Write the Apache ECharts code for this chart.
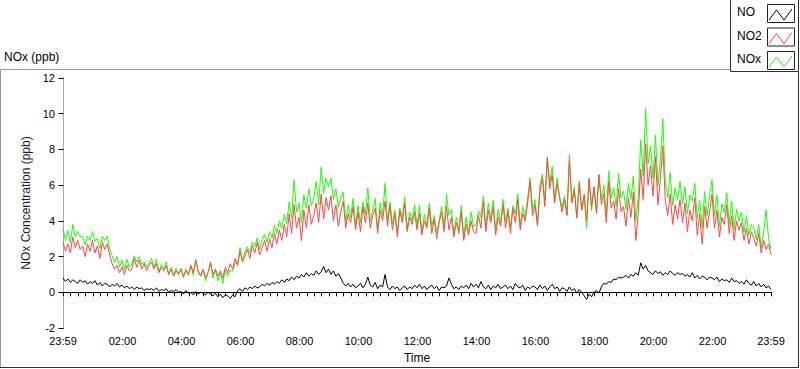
<!DOCTYPE html>
<html><head><meta charset="utf-8">
<script src="https://cdn.jsdelivr.net/npm/echarts@6/dist/echarts.min.js"></script>
<style>html,body{margin:0;padding:0;background:#fff}#c{width:800px;height:369px}</style>
</head><body><div id="c"></div>
<script>
// Sampling: every 5 minutes, starting at 23:59 of the previous day (minute -1)
const startMinute = -1;
const stepMinutes = 5;

const no = [
0.8,0.6,0.75,0.55,0.7,0.6,0.5,0.7,0.55,0.65,0.45,0.6,
0.5,0.65,0.4,0.55,0.35,0.5,0.45,0.3,0.45,0.35,0.5,0.3,
0.4,0.25,0.35,0.2,0.3,0.15,0.3,0.2,0.25,0.1,0.2,0.15,
0.2,0.1,0.25,0.05,0.15,0.1,0.2,0.0,0.1,0.05,0.15,0.0,
0.05,-0.1,0.1,-0.05,0.0,-0.15,0.05,-0.1,0.0,-0.05,-0.15,0.0,
-0.1,-0.2,-0.05,-0.25,-0.1,-0.3,-0.15,-0.2,-0.35,-0.15,-0.25,0.1,
0.2,0.05,0.25,0.15,0.3,0.2,0.35,0.25,0.3,0.45,0.35,0.5,
0.4,0.55,0.45,0.6,0.5,0.7,0.55,0.75,0.65,0.85,0.7,0.9,
0.8,1.0,0.85,1.1,0.9,1.05,0.95,1.2,1.0,1.15,1.45,1.1,
1.3,1.0,1.2,0.9,1.05,0.8,0.5,0.35,0.5,0.3,0.45,0.25,
0.35,0.5,0.25,0.45,0.85,0.4,0.3,0.55,0.2,0.4,0.3,1.0,
0.3,0.15,0.35,0.2,0.3,0.1,0.25,0.35,0.15,0.3,0.2,0.4,
0.25,0.45,0.2,0.35,0.15,0.3,0.4,0.2,0.35,0.1,0.3,0.25,
0.35,0.8,0.45,0.2,0.3,0.15,0.35,0.25,0.4,0.2,0.5,0.3,
0.45,0.25,0.6,0.3,0.2,0.4,0.15,0.35,0.25,0.45,0.2,0.3,
0.4,0.2,0.35,0.15,0.5,0.3,0.25,0.4,0.1,0.3,0.2,0.35,
0.3,0.15,0.4,0.2,0.35,0.1,0.3,0.45,0.2,0.3,0.05,0.25,
0.2,0.05,0.3,0.1,0.2,-0.05,0.15,0.0,-0.2,-0.4,-0.1,-0.25,
0.0,0.1,-0.05,0.3,0.5,0.45,0.6,0.55,0.75,0.7,0.85,0.8,
0.85,0.95,0.8,1.0,0.9,1.1,0.95,1.65,1.3,1.5,1.2,1.1,
1.0,1.2,1.05,1.15,0.95,1.1,1.0,1.2,1.05,0.95,1.1,1.0,
1.05,0.9,1.0,0.85,1.1,0.8,0.95,0.75,0.9,0.85,0.7,0.85,
0.8,0.7,0.85,0.6,0.75,0.65,0.7,0.55,0.8,0.6,0.65,0.5,
0.6,0.45,0.7,0.5,0.4,0.6,0.35,0.5,0.3,0.45,0.25,0.35,
0.15];

const no2 = [
2.8,2.3,2.7,2.2,3.1,2.5,2.9,2.4,2.6,2.0,2.7,2.3,
2.9,2.2,2.6,1.9,2.8,2.4,2.7,2.1,1.6,1.3,1.5,1.1,
1.4,1.0,1.5,1.2,1.3,1.9,1.4,1.8,1.3,1.6,1.2,1.5,
1.7,1.3,1.6,1.1,1.4,1.2,1.5,1.0,1.3,0.9,1.2,1.0,
1.3,0.9,1.2,1.0,1.5,1.1,1.8,1.2,0.9,1.3,0.8,1.1,
1.7,1.0,1.3,0.9,1.2,0.8,1.4,1.1,1.6,1.3,1.9,1.5,
2.3,1.7,2.0,2.4,1.9,2.6,2.2,2.8,2.1,2.5,2.9,2.3,
3.0,2.5,3.3,2.7,3.5,2.9,3.8,3.1,4.4,3.3,4.9,3.6,
4.2,2.9,4.6,3.6,4.9,3.8,4.3,5.0,3.9,5.5,4.1,5.3,
4.6,5.4,4.0,4.9,3.7,4.5,5.1,3.6,4.4,3.9,4.8,3.5,
4.5,3.4,4.8,3.9,5.0,3.6,4.3,4.7,3.3,4.6,4.0,5.1,
3.7,4.9,3.5,4.4,3.1,4.6,3.9,5.0,3.4,4.2,3.8,4.5,
3.5,4.4,3.2,4.0,3.6,4.7,3.3,4.1,3.0,3.9,4.5,3.4,
4.8,3.5,4.2,3.1,3.9,3.3,4.5,2.9,3.8,3.2,4.0,3.4,
3.3,4.3,3.6,5.1,3.4,4.6,3.9,4.8,3.2,4.2,3.7,4.9,
3.6,4.5,3.3,4.7,3.9,5.2,3.5,4.4,4.0,5.0,6.2,4.3,
4.9,3.7,5.6,6.4,4.8,7.5,5.8,6.6,5.0,6.1,5.3,4.5,
5.2,4.3,7.4,5.0,5.7,4.2,6.1,4.6,5.5,4.0,6.4,4.8,
5.9,4.4,6.6,4.9,5.5,3.9,6.2,4.7,5.1,4.1,5.8,4.5,
4.8,3.7,5.3,4.2,5.6,2.9,4.4,6.9,5.2,8.3,6.0,7.1,
5.4,7.6,4.9,6.3,8.2,5.1,4.3,5.5,3.8,4.9,4.1,5.2,
3.9,5.0,3.4,4.6,4.0,5.3,3.2,4.4,2.7,4.8,3.6,4.5,
5.5,3.6,4.6,3.1,4.2,3.8,4.9,3.3,4.3,2.9,4.0,3.5,
3.9,2.9,3.6,2.7,3.4,3.0,2.6,3.3,2.2,2.9,2.4,2.7,
2.1];

const nox = [
3.6,2.9,3.45,2.75,3.8,3.1,3.4,3.1,3.15,2.65,3.15,2.9,
3.4,2.85,3.0,2.45,3.15,2.9,3.15,2.4,2.05,1.65,2.0,1.4,
1.8,1.25,1.85,1.4,1.6,2.05,1.7,2.0,1.55,1.7,1.4,1.65,
1.9,1.4,1.85,1.15,1.55,1.3,1.7,1.0,1.4,0.95,1.35,1.0,
1.35,0.8,1.3,0.95,1.5,0.95,1.85,1.1,0.9,1.25,0.65,1.1,
1.6,0.8,1.25,0.65,1.1,0.5,1.25,0.9,1.25,1.15,1.65,1.6,
2.5,1.75,2.25,2.55,2.2,2.8,2.55,3.05,2.4,2.95,3.25,2.8,
3.4,3.05,3.75,3.3,4.0,3.6,4.35,3.85,5.05,4.15,6.3,4.5,
5.0,3.9,5.45,4.7,5.8,4.85,5.25,6.2,4.9,7.0,5.55,6.4,
5.9,6.4,5.2,5.8,4.75,5.3,5.6,3.95,4.9,4.2,5.25,3.75,
4.85,3.9,5.05,4.35,5.85,4.0,4.6,5.25,3.5,5.0,4.3,6.1,
4.0,5.05,3.85,4.6,3.4,4.7,4.15,5.35,3.55,4.5,4.0,4.9,
3.75,4.85,3.4,4.35,3.75,5.0,3.7,4.3,3.35,4.0,4.8,3.65,
5.5,4.3,4.65,3.3,4.2,3.45,4.85,3.15,4.2,3.4,4.5,3.7,
3.75,4.55,4.2,5.4,3.6,5.0,4.05,5.15,3.45,4.65,3.9,5.2,
4.0,4.7,3.65,4.85,4.4,5.5,3.75,4.8,4.1,5.3,6.4,4.65,
5.2,3.85,6.0,6.6,5.15,7.6,6.1,7.05,5.2,6.4,5.35,4.75,
5.4,4.35,7.7,5.1,5.9,4.15,6.25,4.6,5.3,3.6,6.3,4.55,
5.9,4.5,6.55,5.2,6.0,4.35,6.8,5.25,5.85,4.8,6.65,5.3,
5.65,4.65,6.1,5.2,6.5,4.0,5.35,8.55,6.5,10.3,7.2,8.2,
6.4,8.8,5.95,7.45,9.7,6.2,5.3,6.7,4.85,5.85,5.2,6.2,
4.95,5.9,4.4,5.45,5.1,6.1,4.15,5.15,3.6,5.65,4.3,5.35,
6.3,4.3,5.45,3.7,4.95,4.45,5.6,3.85,5.1,3.5,4.65,4.0,
4.5,3.35,4.3,3.2,3.8,3.6,2.95,3.8,2.5,3.35,4.6,3.05,
2.4];

// Axis ticks (minutes since midnight) and their labels
const xLabelValues = [-1,120,240,360,480,600,720,840,960,1080,1200,1320,1439];
const xLabelTexts = ['23:59','02:00','04:00','06:00','08:00','10:00','12:00','14:00','16:00','18:00','20:00','22:00','23:59'];
const xTickValues = [-1,14,29,44,60,75,90,105,120,135,150,165,180,195,210,225,240,255,270,285,300,315,330,345,360,375,390,405,420,435,450,465,480,495,510,525,540,555,570,585,600,615,630,645,660,675,690,705,720,735,750,765,780,795,810,825,840,855,870,885,900,915,930,945,960,975,990,1005,1020,1035,1050,1065,1080,1095,1110,1125,1140,1155,1170,1185,1200,1215,1230,1245,1260,1275,1290,1305,1320,1335,1350,1365,1380,1395,1410,1425,1439];
const seriesNames = ['NO','NO2','NOx'];
const seriesColors = ['#000000','#ff4545','#1aff00'];

function pairs(arr){ return arr.map((v,i)=>[startMinute + i*stepMinutes, v]); }

const FONT = '"Liberation Sans", Arial, sans-serif';
const chart = echarts.init(document.getElementById('c'), null, {renderer:'svg'});

const legendGraphics = [];
seriesNames.forEach((n,i)=>{
  const y0 = 4 + i*23.5;
  legendGraphics.push({type:'text', left:737, top:y0+2, style:{text:n, font:'12px '+FONT, fill:'#000'}});
  legendGraphics.push({type:'rect', shape:{x:767.5, y:y0+0.5, width:27, height:18}, style:{fill:'#fff', stroke:'#222', lineWidth:1}});
  legendGraphics.push({type:'polyline', shape:{points:[[769,y0+16],[776.5,y0+6],[784,y0+16],[792,y0+5]]}, style:{stroke:seriesColors[i], lineWidth:1, fill:null}});
});

chart.setOption({
  animation:false,
  backgroundColor:'#fff',
  textStyle:{fontFamily:FONT},
  grid:{left:63, right:29, top:78, bottom:39, containLabel:false},
  xAxis:[{
    type:'value', min:-1, max:1439, position:'bottom',
    name:'Time', nameLocation:'middle', nameGap:24,
    nameTextStyle:{fontSize:12, color:'#000', fontFamily:FONT},
    axisLine:{show:true, lineStyle:{color:'#a8a8a8', width:1}},
    axisTick:{show:true, customValues:xTickValues, length:4, lineStyle:{color:'#000'}},
    axisLabel:{show:true, customValues:xLabelValues, fontSize:11, color:'#000', margin:7, fontFamily:FONT,
      formatter:(v)=>{ const k = xLabelValues.indexOf(v); return k>=0 ? xLabelTexts[k] : ''; }},
    splitLine:{show:false}
  },{
    type:'value', min:-1, max:1439, position:'top',
    axisLine:{show:true, lineStyle:{color:'#000', width:1}},
    axisTick:{show:false}, axisLabel:{show:false}, splitLine:{show:false}
  }],
  yAxis:[{
    type:'value', min:-2, max:12, interval:2, position:'left',
    name:'NOx Concentration (ppb)', nameLocation:'middle', nameGap:22, nameRotate:90,
    nameTextStyle:{fontSize:12, color:'#1a1a2a', fontFamily:FONT},
    axisLine:{show:true, lineStyle:{color:'#000', width:1}},
    axisTick:{show:true, length:5, lineStyle:{color:'#000'}},
    axisLabel:{fontSize:11, color:'#000', margin:8, fontFamily:FONT},
    splitLine:{show:false}
  },{
    type:'value', min:-2, max:12, interval:2, position:'right',
    axisLine:{show:true, lineStyle:{color:'#a8a8a8', width:1}},
    axisTick:{show:false}, axisLabel:{show:false}, splitLine:{show:false}
  }],
  graphic:[
    {type:'line', shape:{x1:0.5,y1:69.5,x2:730,y2:69.5}, style:{stroke:'#9a9a9a', lineWidth:1}},
    {type:'line', shape:{x1:0.5,y1:69.5,x2:0.5,y2:367}, style:{stroke:'#9a9a9a', lineWidth:1}},
    {type:'line', shape:{x1:0,y1:367.5,x2:799,y2:367.5}, style:{stroke:'#303030', lineWidth:1}},
    {type:'line', shape:{x1:798.5,y1:72,x2:798.5,y2:368}, style:{stroke:'#303030', lineWidth:1}},
    {type:'rect', shape:{x:730.5, y:-1, width:68, height:72.5}, style:{fill:'#fff', stroke:'#303030', lineWidth:1}},
    {type:'text', left:4, top:51, style:{text:'NOx (ppb)', font:'12px '+FONT, fill:'#000'}}
  ].concat(legendGraphics),
  series:[
    {name:'NOx', type:'line', data:pairs(nox), showSymbol:false, symbol:'none', lineStyle:{color:seriesColors[2], width:1}, z:2},
    {name:'NO2', type:'line', data:pairs(no2), showSymbol:false, symbol:'none', lineStyle:{color:seriesColors[1], width:1}, z:3},
    {name:'NO', type:'line', data:pairs(no), showSymbol:false, symbol:'none', lineStyle:{color:seriesColors[0], width:1}, z:4}
  ]
});
</script></body></html>
